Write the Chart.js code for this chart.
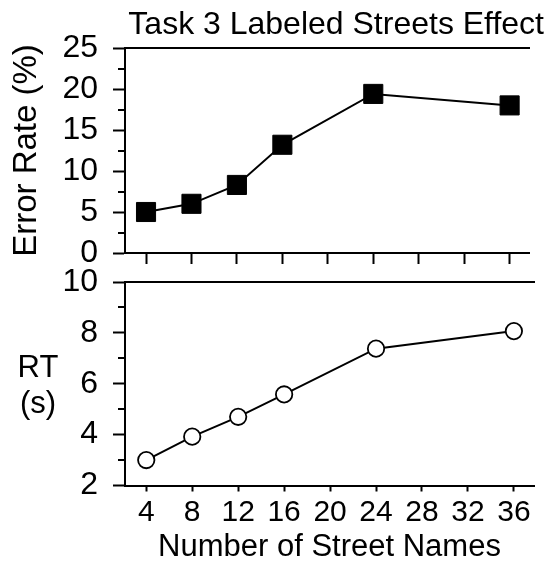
<!DOCTYPE html>
<html><head><meta charset="utf-8">
<script src="https://cdn.jsdelivr.net/npm/chart.js@4"></script>
<style>
html,body{margin:0;padding:0;background:#fff;}
#wrap{position:relative;width:544px;height:576px;overflow:hidden;background:#fff;}
canvas{position:absolute;left:0;}
#c1{top:0;}
#c2{top:246px;}
</style></head><body>
<div id="wrap">
<canvas id="c1" width="544" height="290"></canvas>
<canvas id="c2" width="544" height="330"></canvas>
</div>
<script>
// ---- data ----
const streetCounts = [4, 8, 12, 16, 24, 36];
const errorRate = [5.0, 6.0, 8.3, 13.2, 19.4, 18.0];
const rtSeconds = [3.0, 3.92, 4.7, 5.58, 7.38, 8.07];
const xTicks = [4, 8, 12, 16, 20, 24, 28, 32, 36];
const errorTicks = [0, 5, 10, 15, 20, 25];
const rtTicks = [2, 4, 6, 8, 10];
const chartTitle = 'Task 3 Labeled Streets Effect';
const xTitle = 'Number of Street Names';
const errTitle = 'Error Rate (%)';
const rtTitle = ['RT', '(s)'];

const FONT = '"Liberation Sans", Arial, Helvetica, sans-serif';
Chart.defaults.color = '#000';
Chart.defaults.font.family = FONT;

const X_MIN = 2.15, X_MAX = 37.75;

const toPoints = (xs, ys) => xs.map((x, i) => ({x, y: ys[i]}));
const setTicks = (vals) => (scale) => { scale.ticks = vals.map(v => ({value: v})); };

const minorTicks = {
  id: 'minorTicks',
  afterDraw(chart, args, opts) {
    const s = chart.scales.y, ctx = chart.ctx;
    const vals = s.ticks.map(t => t.value);
    ctx.save();
    ctx.strokeStyle = '#000';
    ctx.lineWidth = 2;
    for (let i = 0; i < vals.length - 1; i++) {
      const p = Math.round(s.getPixelForValue((vals[i] + vals[i + 1]) / 2));
      ctx.beginPath();
      ctx.moveTo(s.right - opts.length, p);
      ctx.lineTo(s.right, p);
      ctx.stroke();
    }
    ctx.restore();
  }
};

const sideTitle = {
  id: 'sideTitle',
  afterDraw(chart, args, opts) {
    if (!opts.text) return;
    const s = chart.scales.y, ctx = chart.ctx;
    ctx.save();
    ctx.fillStyle = '#000';
    ctx.font = opts.size + 'px ' + FONT;
    ctx.textAlign = 'center';
    ctx.textBaseline = 'middle';
    const mid = (s.top + s.bottom) / 2 + opts.shift;
    const n = opts.text.length;
    opts.text.forEach((t, i) => {
      ctx.fillText(t, opts.x, mid + (i - (n - 1) / 2) * opts.lineHeight);
    });
    ctx.restore();
  }
};

function topBorderAxis() {
  return {
    type: 'linear', position: 'top', min: X_MIN, max: X_MAX,
    ticks: {display: false},
    grid: {drawOnChartArea: false, drawTicks: false},
    border: {display: true, color: '#000', width: 2},
    afterFit: s => { s.height = 0; }
  };
}

// ---- top chart: error rate ----
new Chart(document.getElementById('c1'), {
  type: 'line',
  data: {
    datasets: [{
      data: toPoints(streetCounts, errorRate),
      borderColor: '#000', borderWidth: 2,
      pointStyle: 'rect', pointRadius: 13.5,
      pointBackgroundColor: '#000', pointBorderColor: '#000', pointBorderWidth: 1,
      tension: 0, clip: false
    }]
  },
  options: {
    responsive: false, animation: false,
    layout: {padding: 0},
    plugins: {
      legend: {display: false}, tooltip: {enabled: false},
      title: {
        display: true, text: chartTitle, fullSize: true, align: 'end',
        font: {size: 32, weight: 'normal', lineHeight: 1.2},
        padding: {top: 6, bottom: 3.6}, color: '#000'
      },
      minorTicks: {length: 7},
      sideTitle: {text: null}
    },
    scales: {
      x: {
        type: 'linear', position: 'bottom', min: X_MIN, max: X_MAX,
        afterBuildTicks: setTicks(xTicks),
        ticks: {display: false},
        grid: {drawOnChartArea: false, drawTicks: true, tickLength: 11, color: '#000', tickWidth: 2},
        border: {display: true, color: '#000', width: 2},
        afterFit: s => { s.height = 37; }
      },
      xt: topBorderAxis(),
      y: {
        type: 'linear', position: 'left', min: 0, max: 25,
        afterBuildTicks: setTicks(errorTicks),
        ticks: {font: {size: 32, lineHeight: 1.2}, padding: 15, color: '#000', autoSkip: false},
        grid: {drawOnChartArea: false, drawTicks: true, tickLength: 12, color: '#000', tickWidth: 2},
        border: {display: true, color: '#000', width: 2},
        title: {display: true, text: errTitle, font: {size: 33, lineHeight: 1.2}, padding: {top: 7, bottom: 0}, color: '#000'},
        afterFit: s => { s.width = 125; }
      }
    }
  },
  plugins: [minorTicks, sideTitle]
});

// ---- bottom chart: RT ----
new Chart(document.getElementById('c2'), {
  type: 'line',
  data: {
    datasets: [{
      data: toPoints(streetCounts, rtSeconds),
      borderColor: '#000', borderWidth: 2,
      pointStyle: 'circle', pointRadius: 8.2,
      pointBackgroundColor: '#fff', pointBorderColor: '#000', pointBorderWidth: 1.8,
      tension: 0, clip: false
    }]
  },
  options: {
    responsive: false, animation: false,
    layout: {padding: {top: 36, left: 0, right: 0, bottom: 0}},
    plugins: {
      legend: {display: false}, tooltip: {enabled: false},
      title: {display: false},
      minorTicks: {length: 7},
      sideTitle: {text: rtTitle, size: 31, x: 38, lineHeight: 36, shift: 3}
    },
    scales: {
      x: {
        type: 'linear', position: 'bottom', min: X_MIN, max: X_MAX,
        afterBuildTicks: setTicks(xTicks),
        ticks: {font: {size: 30, lineHeight: 1.2}, padding: 3, color: '#000', maxRotation: 0, autoSkip: false},
        grid: {drawOnChartArea: false, drawTicks: true, tickLength: 6, color: '#000', tickWidth: 2},
        border: {display: true, color: '#000', width: 2},
        title: {display: true, text: xTitle, font: {size: 31, lineHeight: 1.2}, padding: {top: 0, bottom: 10}, color: '#000'},
        afterFit: s => { s.height = 90.5; }
      },
      xt: topBorderAxis(),
      y: {
        type: 'linear', position: 'left', min: 2, max: 10,
        afterBuildTicks: setTicks(rtTicks),
        ticks: {font: {size: 32, lineHeight: 1.2}, padding: 15, color: '#000', autoSkip: false},
        grid: {drawOnChartArea: false, drawTicks: true, tickLength: 12, color: '#000', tickWidth: 2},
        border: {display: true, color: '#000', width: 2},
        afterFit: s => { s.width = 125; }
      }
    }
  },
  plugins: [minorTicks, sideTitle]
});
</script>
</body></html>
